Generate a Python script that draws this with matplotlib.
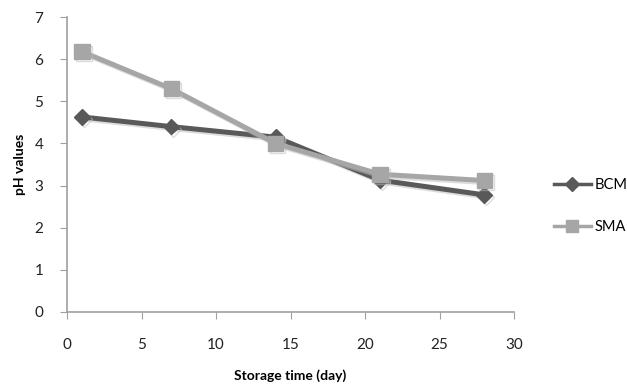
from matplotlib import pyplot as plt
import matplotlib.patheffects as pe

days = [1, 7, 14, 21, 28]
bcm = [4.63, 4.4, 4.15, 3.13, 2.78]
sma = [6.18, 5.3, 4.0, 3.27, 3.12]

plt.rcParams['font.family'] = ['Lato', 'DejaVu Sans']

fig = plt.figure(figsize=(6.27, 3.89), dpi=100)
ax = fig.add_axes([0.107, 0.198, 0.713, 0.758])

shadow = [pe.SimpleLineShadow(offset=(1.5, -1.5), shadow_color='#bbbbbb', alpha=0.5), pe.Normal()]
ax.plot(days, bcm, color='#595959', lw=3.6, marker='D', markersize=8,
        label='BCM', path_effects=shadow)
ax.plot(days, sma, color='#a6a6a6', lw=3.6, marker='s', markersize=11,
        label='SMA', path_effects=shadow)

ax.set_xlim(0, 30)
ax.set_ylim(0, 7)
ax.set_xticks(range(0, 31, 5))
ax.set_yticks(range(0, 8))
for s in ['top', 'right']:
    ax.spines[s].set_visible(False)
for s in ['left', 'bottom']:
    ax.spines[s].set_color('#a0a0a0')
    ax.spines[s].set_linewidth(1.2)
ax.tick_params(axis='x', colors='#a0a0a0', length=5, pad=14, labelcolor='#222222', labelsize=11)
ax.tick_params(axis='y', colors='#a0a0a0', length=5, pad=12, labelcolor='#222222', labelsize=11)

ax.set_xlabel('Storage time (day)', fontweight='bold', fontsize=10, labelpad=12)
ax.set_ylabel('pH values', fontweight='bold', fontsize=10, labelpad=6)

leg = ax.legend(loc='center left', bbox_to_anchor=(1.075, 0.36), frameon=False,
                fontsize=10.5, handlelength=2.6, labelspacing=1.9, handletextpad=0.2,
                markerscale=0.85, borderaxespad=0)
for h in leg.get_lines():
    h.set_linewidth(2.5)
    h.set_path_effects([])

fig.savefig('out.png', dpi=100)
